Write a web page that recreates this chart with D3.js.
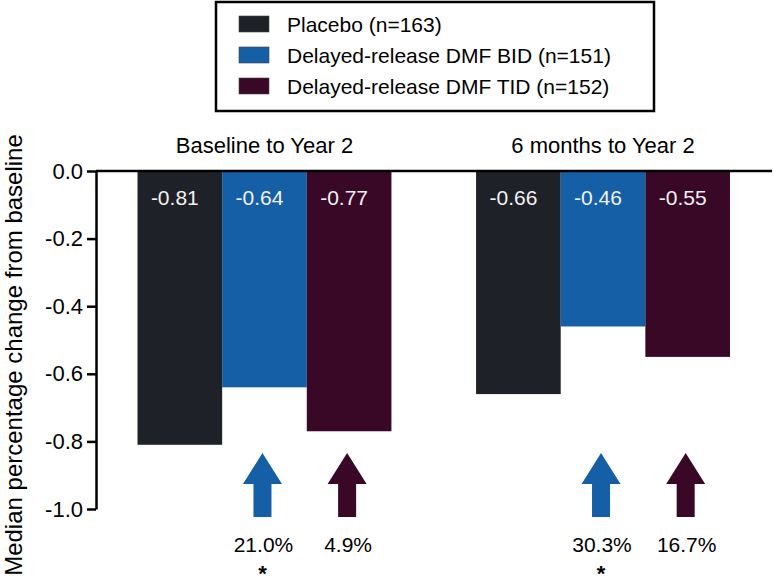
<!DOCTYPE html>
<html><head><meta charset="utf-8">
<script src="https://cdn.jsdelivr.net/npm/d3@7/dist/d3.min.js"></script>
<style>body{margin:0;background:#fff}svg{display:block}text{font-family:"Liberation Sans",Arial,sans-serif}</style>
</head><body>
<script>
const groups = ["Baseline to Year 2", "6 months to Year 2"];
const series = ["Placebo (n=163)", "Delayed-release DMF BID (n=151)", "Delayed-release DMF TID (n=152)"];
const colors = ["#1e2127", "#155fa7", "#380826"];
const placebo = [-0.81, -0.66];
const bid = [-0.64, -0.46];
const tid = [-0.77, -0.55];
const bidImprovement = ["21.0%", "30.3%"];
const tidImprovement = ["4.9%", "16.7%"];
const bidSignificant = [true, true];
const tidSignificant = [false, false];
const yTicks = [0, -0.2, -0.4, -0.6, -0.8, -1.0];
const yLabel = "Median percentage change from baseline";

const W = 774, H = 585;
const svg = d3.select("body").append("svg").attr("width", W).attr("height", H);
const hyph = s => s.replace("\u2212", "-");

const y = d3.scaleLinear().domain([0, -1]).range([171, 509]);
const x0 = d3.scaleBand().domain(groups).range([96, 771.5]).paddingInner(0.25).paddingOuter(0.1226);
const x1 = d3.scaleBand().domain(series).range([0, x0.bandwidth()]).padding(0);
const color = d3.scaleOrdinal().domain(series).range(colors);

const values = [placebo, bid, tid];
const rows = [];
groups.forEach((g, gi) => series.forEach((s, si) => rows.push({g, s, v: values[si][gi]})));

// bars
svg.append("g").selectAll("rect").data(rows).join("rect")
  .attr("x", d => x0(d.g) + x1(d.s))
  .attr("y", y(0))
  .attr("width", x1.bandwidth())
  .attr("height", d => y(d.v) - y(0))
  .attr("fill", d => color(d.s));

// value labels
svg.append("g").selectAll("text").data(rows).join("text")
  .attr("x", d => x0(d.g) + x1(d.s) + x1.bandwidth() / 2 - 5)
  .attr("y", 205)
  .attr("text-anchor", "middle")
  .attr("font-size", 21)
  .attr("fill", "#f2f2f2")
  .text(d => hyph(d3.format(".2f")(d.v)));

// y axis
const yAxis = d3.axisLeft(y).tickValues(yTicks).tickFormat(d => hyph(d3.format(".1f")(d))).tickSize(9).tickSizeOuter(0);
const ga = svg.append("g").attr("transform", "translate(96,0)").call(yAxis);
ga.select(".domain").attr("stroke", "#000").attr("stroke-width", 2.5);
ga.selectAll(".tick line").attr("stroke", "#000").attr("stroke-width", 2.5);
ga.selectAll(".tick text").attr("font-size", 22).attr("fill", "#000").attr("x", -13)
  .style("font-family", '"Liberation Sans",Arial,sans-serif');

// zero line across
svg.append("line").attr("x1", 96).attr("x2", 772).attr("y1", y(0)).attr("y2", y(0))
  .attr("stroke", "#000").attr("stroke-width", 2.5);

// y label
svg.append("text").attr("transform", `translate(22,355) rotate(-90)`)
  .attr("text-anchor", "middle").attr("font-size", 24).attr("fill", "#000").text(yLabel);

// group titles
svg.append("g").selectAll("text").data(groups).join("text")
  .attr("x", d => x0(d) + x0.bandwidth() / 2)
  .attr("y", 153)
  .attr("text-anchor", "middle").attr("font-size", 22).attr("fill", "#000")
  .text(d => d);

// arrows
const arrows = [];
groups.forEach((g, gi) => {
  arrows.push({g, s: series[1], pct: bidImprovement[gi], sig: bidSignificant[gi]});
  arrows.push({g, s: series[2], pct: tidImprovement[gi], sig: tidSignificant[gi]});
});
const arrowPath = cx => {
  const top = 453, base = 484, bot = 517, hw = 19.5, sw = 9;
  return `M${cx},${top}L${cx + hw},${base}L${cx + sw},${base}L${cx + sw},${bot}L${cx - sw},${bot}L${cx - sw},${base}L${cx - hw},${base}Z`;
};
const ag = svg.append("g");
ag.selectAll("path").data(arrows).join("path")
  .attr("d", d => arrowPath(x0(d.g) + x1(d.s) + x1.bandwidth() / 2 - 2))
  .attr("fill", d => color(d.s));
ag.selectAll("text.pct").data(arrows).join("text").attr("class", "pct")
  .attr("x", d => x0(d.g) + x1(d.s) + x1.bandwidth() / 2 - 1)
  .attr("y", 552).attr("text-anchor", "middle").attr("font-size", 21).attr("fill", "#000")
  .text(d => d.pct);
ag.selectAll("text.sig").data(arrows.filter(d => d.sig)).join("text").attr("class", "sig")
  .attr("x", d => x0(d.g) + x1(d.s) + x1.bandwidth() / 2 - 2)
  .attr("y", 581).attr("text-anchor", "middle").attr("font-size", 22).attr("font-weight", "bold").attr("fill", "#000")
  .text("*");

// legend
const lg = svg.append("g");
lg.append("rect").attr("x", 216).attr("y", 2).attr("width", 438).attr("height", 109)
  .attr("fill", "#fff").attr("stroke", "#000").attr("stroke-width", 2.5);
const li = lg.selectAll("g.item").data(series).join("g").attr("class", "item")
  .attr("transform", (d, i) => `translate(0,${24 + i * 31})`);
li.append("rect").attr("x", 239).attr("y", -8).attr("width", 30).attr("height", 16)
  .attr("fill", d => color(d)).attr("stroke", "#444").attr("stroke-width", 0.6);
li.append("text").attr("x", 287).attr("y", 7.5).attr("font-size", 21).attr("fill", "#000").text(d => d);
</script>
</body></html>
